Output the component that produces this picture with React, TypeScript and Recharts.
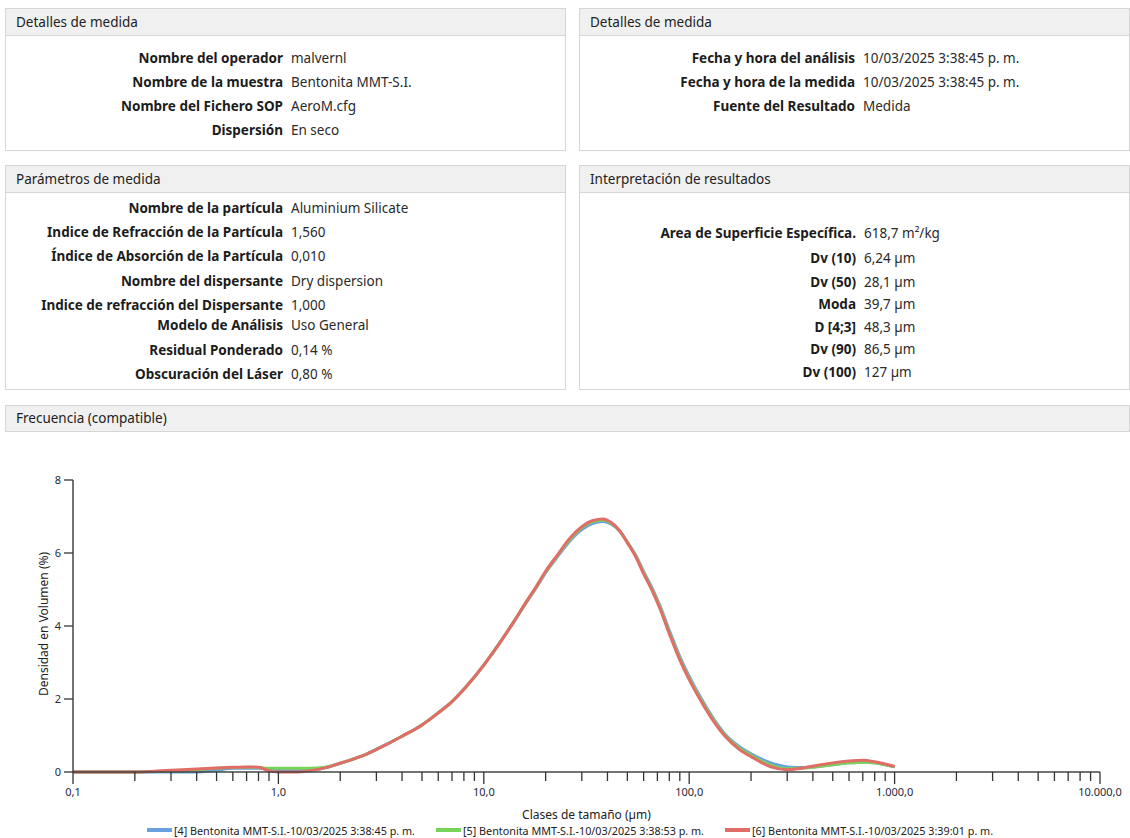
import React from "react"
import { LineChart, Line, XAxis, YAxis, Legend } from "recharts"

// Measurement detail panels
const detailsLeft = [
  { label: "Nombre del operador", value: "malvernl", y: 57 },
  { label: "Nombre de la muestra", value: "Bentonita MMT-S.I.", y: 81 },
  { label: "Nombre del Fichero SOP", value: "AeroM.cfg", y: 105 },
  { label: "Dispersión", value: "En seco", y: 129 },
]

const detailsRight = [
  { label: "Fecha y hora del análisis", value: "10/03/2025 3:38:45 p. m.", y: 57 },
  { label: "Fecha y hora de la medida", value: "10/03/2025 3:38:45 p. m.", y: 81 },
  { label: "Fuente del Resultado", value: "Medida", y: 105 },
]

const params = [
  { label: "Nombre de la partícula", value: "Aluminium Silicate", y: 207 },
  { label: "Indice de Refracción de la Partícula", value: "1,560", y: 231 },
  { label: "Índice de Absorción de la Partícula", value: "0,010", y: 255 },
  { label: "Nombre del dispersante", value: "Dry dispersion", y: 280 },
  { label: "Indice de refracción del Dispersante", value: "1,000", y: 304 },
  { label: "Modelo de Análisis", value: "Uso General", y: 324 },
  { label: "Residual Ponderado", value: "0,14 %", y: 349 },
  { label: "Obscuración del Láser", value: "0,80 %", y: 373 },
]

const results = [
  { label: "Area de Superficie Específica.", value: "618,7 m²/kg", y: 232 },
  { label: "Dv (10)", value: "6,24 µm", y: 257 },
  { label: "Dv (50)", value: "28,1 µm", y: 281 },
  { label: "Moda", value: "39,7 µm", y: 303 },
  { label: "D [4;3]", value: "48,3 µm", y: 326 },
  { label: "Dv (90)", value: "86,5 µm", y: 348 },
  { label: "Dv (100)", value: "127 µm", y: 371 },
]

// Size classes (µm) and volume density (%) per run
const sizes = [
  0.1, 0.2, 0.3, 0.4, 0.5, 0.6, 0.7, 0.8, 0.9, 1.0, 1.2, 1.4, 1.7, 2.0, 2.5, 3, 4, 5, 6, 7, 8,
  10, 12, 14, 16, 18, 20, 23, 26, 30, 34, 38, 42, 46, 50, 55, 60, 66, 72, 80, 90, 100, 115, 130,
  150, 175, 200, 250, 300, 350, 400, 500, 600, 700, 800, 900, 1000,
]

const run4 = [
  0, 0, 0, 0, 0.05, 0.1, 0.1, 0.1, 0.08, 0.07, 0.05, 0.05, 0.12, 0.24, 0.42, 0.62, 0.98, 1.29,
  1.62, 1.93, 2.27, 2.93, 3.55, 4.11, 4.62, 5.05, 5.46, 5.92, 6.3, 6.64, 6.81, 6.86, 6.78, 6.59,
  6.3, 5.93, 5.49, 5.04, 4.56, 3.88, 3.16, 2.62, 1.99, 1.5, 1.03, 0.7, 0.5, 0.25, 0.14, 0.12,
  0.14, 0.2, 0.25, 0.27, 0.25, 0.2, 0.14,
]

const run5 = [
  0, 0, 0.03, 0.06, 0.1, 0.12, 0.13, 0.12, 0.1, 0.1, 0.1, 0.1, 0.13, 0.24, 0.42, 0.62, 0.98, 1.29,
  1.62, 1.93, 2.27, 2.93, 3.55, 4.12, 4.63, 5.07, 5.48, 5.95, 6.34, 6.69, 6.86, 6.9, 6.8, 6.6,
  6.29, 5.91, 5.46, 5.0, 4.52, 3.83, 3.11, 2.57, 1.95, 1.46, 1.0, 0.66, 0.46, 0.19, 0.09, 0.1,
  0.13, 0.2, 0.25, 0.27, 0.25, 0.2, 0.14,
]

const run6 = [
  0, 0, 0.05, 0.08, 0.11, 0.13, 0.14, 0.13, 0.03, 0, 0, 0.03, 0.12, 0.24, 0.42, 0.62, 0.98, 1.29,
  1.62, 1.93, 2.27, 2.93, 3.55, 4.12, 4.64, 5.08, 5.5, 5.97, 6.38, 6.72, 6.89, 6.93, 6.82, 6.6,
  6.28, 5.89, 5.43, 4.97, 4.48, 3.79, 3.07, 2.53, 1.91, 1.43, 0.97, 0.62, 0.42, 0.14, 0.06, 0.1,
  0.16, 0.25, 0.3, 0.32, 0.28, 0.22, 0.15,
]

const seriesNames = [
  "[4] Bentonita MMT-S.I.-10/03/2025 3:38:45 p. m.",
  "[5] Bentonita MMT-S.I.-10/03/2025 3:38:53 p. m.",
  "[6] Bentonita MMT-S.I.-10/03/2025 3:39:01 p. m.",
]
const seriesColors = ["#6a9fe0", "#78d35a", "#e26c66"]

const decades = [0.1, 1, 10, 100, 1000, 10000]
const decadeLabels = ["0,1", "1,0", "10,0", "100,0", "1.000,0", "10.000,0"]
const yTicks = [0, 2, 4, 6, 8]

const data = sizes.map((size, i) => ({ size, r4: run4[i], r5: run5[i], r6: run6[i] }))

// major decade ticks plus 2..9 minor ticks in each decade
const xTicks: number[] = []
decades.slice(0, -1).forEach((d) => {
  for (let m = 1; m < 10; m++) xTicks.push(+(d * m).toPrecision(3))
})
xTicks.push(10000)

const FONT = "'Noto Sans', 'Open Sans', sans-serif"
const CHART_W = 1130
const CHART_H = 398
const TEXT_SIZE = 13.5

type Row = { label: string; value: string; y: number }

function Panel({
  left,
  top,
  width,
  height,
  title,
  rows,
  labelRight,
}: {
  left: number
  top: number
  width: number
  height: number
  title: string
  rows: Row[]
  labelRight: number
}) {
  return (
    <div
      style={{
        position: "absolute",
        left,
        top,
        width,
        height,
        border: "1px solid #d6d6d6",
        boxSizing: "border-box",
        background: "#fff",
      }}
    >
      <div
        style={{
          height: 26,
          background: "#f0f0f0",
          borderBottom: "1px solid #d6d6d6",
          paddingLeft: 10,
          lineHeight: "26px",
          fontSize: TEXT_SIZE,
          color: "#222",
        }}
      >
        {title}
      </div>
      {rows.map((r) => (
        <div
          key={r.label}
          style={{
            position: "absolute",
            top: r.y - top - 10,
            left: 0,
            width: "100%",
            height: 20,
            lineHeight: "20px",
            fontSize: TEXT_SIZE,
          }}
        >
          <span
            style={{
              position: "absolute",
              right: width - (labelRight - left),
              fontWeight: 700,
              color: "#1c1c1c",
              whiteSpace: "nowrap",
            }}
          >
            {r.label}
          </span>
          <span
            style={{
              position: "absolute",
              left: labelRight - left + 6,
              color: "#2a2a2a",
              whiteSpace: "nowrap",
            }}
          >
            {r.value}
          </span>
        </div>
      ))}
    </div>
  )
}

function SizeTick(props: any) {
  const { x, y, payload } = props
  const idx = decades.indexOf(payload.value)
  const major = idx >= 0
  return (
    <g>
      <line x1={x} x2={x} y1={y} y2={y + (major ? 12 : 9)} stroke="#333" strokeWidth={1.3} />
      {major && (
        <text x={x} y={y + 24} textAnchor="middle" fontSize={11} fill="#1e2a3a" fontFamily={FONT}>
          {decadeLabels[idx]}
        </text>
      )}
    </g>
  )
}

function RunLegend() {
  return (
    <div
      style={{
        display: "flex",
        justifyContent: "center",
        gap: 21,
        height: 16,
        alignItems: "center",
        fontSize: 10.8,
        fontFamily: FONT,
        color: "#222",
      }}
    >
      {seriesNames.map((name, i) => (
        <div key={name} style={{ display: "flex", alignItems: "center", gap: 2 }}>
          <span style={{ display: "inline-block", width: 25, height: 4, background: seriesColors[i] }} />
          <span style={{ whiteSpace: "nowrap" }}>{name}</span>
        </div>
      ))}
    </div>
  )
}

export default function App() {
  return (
    <div
      style={{
        position: "absolute",
        left: 0,
        top: 0,
        width: 1130,
        height: 838,
        background: "#fff",
        fontFamily: FONT,
        overflow: "hidden",
      }}
    >
      <Panel left={5} top={8} width={561} height={143} title="Detalles de medida" rows={detailsLeft} labelRight={284} />
      <Panel left={579} top={8} width={551} height={143} title="Detalles de medida" rows={detailsRight} labelRight={856} />
      <Panel left={5} top={165} width={561} height={225} title="Parámetros de medida" rows={params} labelRight={284} />
      <Panel left={579} top={165} width={551} height={225} title="Interpretación de resultados" rows={results} labelRight={857} />

      <div
        style={{
          position: "absolute",
          left: 5,
          top: 405,
          width: 1125,
          height: 27,
          boxSizing: "border-box",
          background: "#f0f0f0",
          border: "1px solid #d6d6d6",
          paddingLeft: 10,
          lineHeight: "25px",
          fontSize: TEXT_SIZE,
          color: "#222",
        }}
      >
        Frecuencia (compatible)
      </div>

      <div style={{ position: "absolute", left: 0, top: 440 }}>
        <LineChart width={CHART_W} height={CHART_H} data={data} margin={{ top: 40, right: 30, left: 0, bottom: 0 }}>
          <XAxis
            dataKey="size"
            type="number"
            scale="log"
            domain={[0.1, 10000]}
            ticks={xTicks}
            interval={0}
            allowDataOverflow
            height={50}
            tickSize={0}
            tickMargin={0}
            tick={<SizeTick />}
            axisLine={{ stroke: "#444", strokeWidth: 1.5 }}
            label={{
              content: (p: any) => {
                const vb = p.viewBox || { x: 73, width: 1027 }
                return (
                  <text
                    x={vb.x + vb.width / 2}
                    y={379}
                    textAnchor="middle"
                    fontSize={12}
                    fill="#222"
                    fontFamily={FONT}
                  >
                    Clases de tamaño (µm)
                  </text>
                )
              },
            }}
          />
          <YAxis
            type="number"
            domain={[0, 8]}
            ticks={yTicks}
            width={73}
            tickSize={9}
            tickMargin={3}
            tick={{ fontSize: 11, fill: "#1e2a3a", fontFamily: FONT }}
            tickLine={{ stroke: "#333", strokeWidth: 1.3 }}
            axisLine={{ stroke: "#444", strokeWidth: 1.5 }}
            label={{
              content: () => (
                <text
                  x={48}
                  y={184}
                  transform="rotate(-90 48 184)"
                  textAnchor="middle"
                  fontSize={12}
                  fill="#222"
                  fontFamily={FONT}
                >
                  Densidad en Volumen (%)
                </text>
              ),
            }}
          />
          <Legend verticalAlign="bottom" wrapperStyle={{ left: 20, width: 1100 }} content={<RunLegend />} />
          <Line type="monotone" dataKey="r4" stroke={seriesColors[0]} strokeWidth={3} dot={false} isAnimationActive={false} />
          <Line type="monotone" dataKey="r5" stroke={seriesColors[1]} strokeWidth={3} dot={false} isAnimationActive={false} />
          <Line type="monotone" dataKey="r6" stroke={seriesColors[2]} strokeWidth={3} dot={false} isAnimationActive={false} />
        </LineChart>
      </div>
    </div>
  )
}
